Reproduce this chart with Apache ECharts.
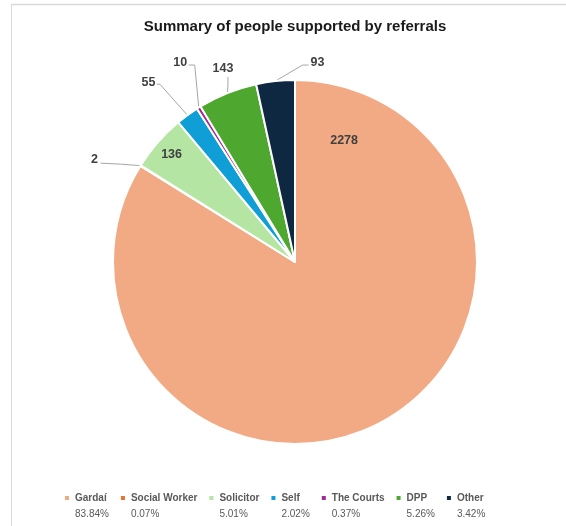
<!DOCTYPE html>
<html>
<head>
<meta charset="utf-8">
<script src="https://cdn.jsdelivr.net/npm/echarts@6/dist/echarts.min.js"></script>
<style>
  html, body { margin: 0; padding: 0; background: #fff; }
  #chart { width: 566px; height: 526px; }
</style>
</head>
<body>
<div id="chart"></div>
<script>
const categories = ['Gardaí', 'Social Worker', 'Solicitor', 'Self', 'The Courts', 'DPP', 'Other'];
const counts = [2278, 2, 136, 55, 10, 143, 93];
const colors = ['#F2AA84', '#E97132', '#B4E5A2', '#0F9ED5', '#A02B93', '#4EA72E', '#0E2841'];

const total = counts.reduce((s, v) => s + v, 0);
const percents = counts.map(v => (v / total * 100).toFixed(2) + '%');

const FONT = '"Liberation Sans", Arial, sans-serif';

// pie geometry
const cx = 295, cy = 262, R = 182;

// label placement: inside labels by [angle, radius fraction],
// outside labels as px offsets from the slice edge at its mid angle
const labelPlace = [
  { inside: [22, 0.72] },
  { text: [-46, -6], line: [[-20, -1.5], [-40, -2.5]] },
  { inside: [null, 0.9] },
  { text: [-39, -33], line: [[-27.5, -31], [-30.5, -31]] },
  { text: [-18.5, -44.5], line: [[-4, -42.5], [-10, -42.5]] },
  { text: [-4.5, -24], line: [[0.5, -8], [0.5, -16]] },
  { text: [42, -19], line: [[27, -16], [33, -16]] }
];

// mid angle of a slice, degrees clockwise from 12 o'clock
function midAngle(i) {
  let before = 0;
  for (let k = 0; k < i; k++) before += counts[k];
  return (before + counts[i] / 2) / total * 360;
}

const chart = echarts.init(document.getElementById('chart'));

const option = {
  backgroundColor: '#fff',
  animation: false,
  title: {
    text: 'Summary of people supported by referrals',
    left: 290,
    top: 14,
    textAlign: 'center',
    textStyle: { fontSize: 15, fontWeight: 'bold', color: '#1a1a1a', fontFamily: FONT }
  },
  graphic: [
    { type: 'line', shape: { x1: 11, y1: 4.5, x2: 566, y2: 4.5 }, style: { stroke: '#d9d9d9', lineWidth: 1.5 } },
    { type: 'line', shape: { x1: 11.5, y1: 4, x2: 11.5, y2: 526 }, style: { stroke: '#d9d9d9', lineWidth: 1 } }
  ],
  legend: {
    data: categories,
    left: 58,
    top: 488,
    icon: 'rect',
    itemWidth: 6,
    itemHeight: 6,
    itemGap: 10,
    selectedMode: false,
    formatter: name => '{n|' + name + '}\n{p|' + percents[categories.indexOf(name)] + '}',
    textStyle: {
      padding: [16, 0, 0, 0],
      rich: {
        n: { fontSize: 10, fontWeight: 'bold', color: '#595959', lineHeight: 16, fontFamily: FONT },
        p: { fontSize: 10, color: '#595959', lineHeight: 16, fontFamily: FONT }
      }
    }
  },
  series: [
    {
      type: 'pie',
      center: [cx, cy],
      radius: R,
      startAngle: 90,
      clockwise: true,
      avoidLabelOverlap: false,
      itemStyle: { borderColor: '#fff', borderWidth: 2 },
      emphasis: { disabled: true },
      label: {
        show: true,
        position: 'outside',
        formatter: '{c}',
        color: '#404040',
        fontSize: 12.5,
        fontWeight: 'bold',
        fontFamily: FONT
      },
      labelLine: {
        show: true,
        length: 10,
        length2: 10,
        lineStyle: { color: '#a6a6a6', width: 1 }
      },
      labelLayout: function (params) {
        const i = params.dataIndex;
        const p = labelPlace[i];
        if (p.inside) {
          const a = (p.inside[0] == null ? midAngle(i) : p.inside[0]) * Math.PI / 180;
          const r = R * p.inside[1];
          return { x: cx + r * Math.sin(a), y: cy - r * Math.cos(a), align: 'center', verticalAlign: 'middle' };
        }
        const mid = midAngle(i) * Math.PI / 180;
        const ex = cx + R * Math.sin(mid), ey = cy - R * Math.cos(mid);
        return {
          x: ex + p.text[0],
          y: ey + p.text[1],
          align: 'center',
          verticalAlign: 'middle',
          labelLinePoints: [[ex, ey]].concat(p.line.map(d => [ex + d[0], ey + d[1]]))
        };
      },
      data: categories.map((name, i) => ({
        name: name,
        value: counts[i],
        itemStyle: { color: colors[i] },
        label: labelPlace[i].inside ? { position: 'inside' } : undefined,
        labelLine: labelPlace[i].inside ? { show: false } : undefined
      }))
    }
  ]
};

chart.setOption(option);
window.addEventListener('resize', () => chart.resize());
</script>
</body>
</html>
